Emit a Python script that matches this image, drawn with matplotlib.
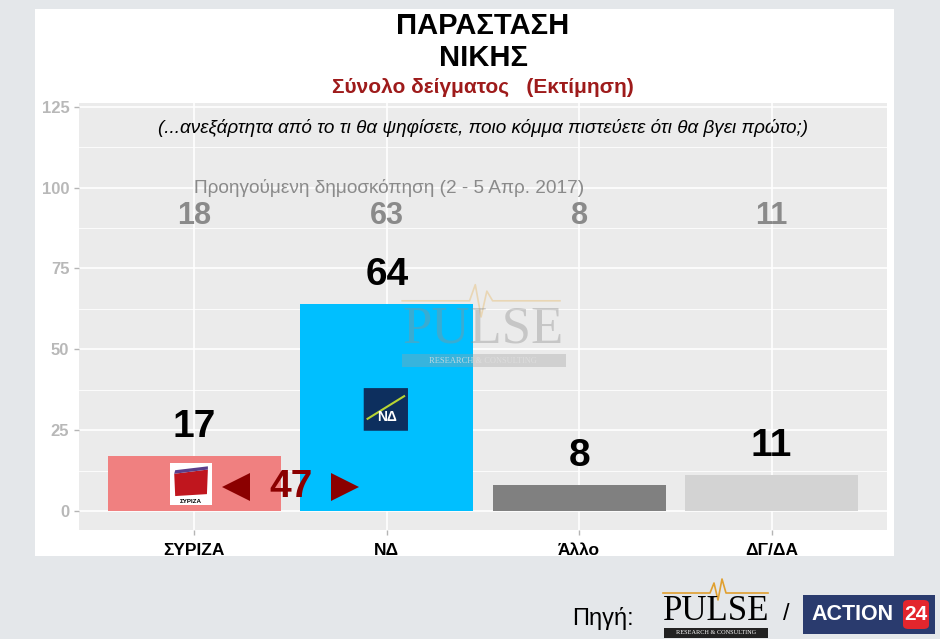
import matplotlib
matplotlib.use("Agg")
import matplotlib.pyplot as plt
from matplotlib.patches import Rectangle, FancyBboxPatch, Polygon
from matplotlib.lines import Line2D

# ---------------- data ----------------
categories = ["ΣΥΡΙΖΑ", "ΝΔ", "Άλλο", "ΔΓ/ΔΑ"]
current_values = [17, 64, 8, 11]
previous_values = [18, 63, 8, 11]
bar_colors = ["#f08080", "#00bfff", "#808080", "#d3d3d3"]
y_ticks = [0, 25, 50, 75, 100, 125]
gap_value = 47

title_text = "ΠΑΡΑΣΤΑΣΗ\nΝΙΚΗΣ"
subtitle_text = "Σύνολο δείγματος   (Εκτίμηση)"
question_text = "(...ανεξάρτητα από το τι θα ψηφίσετε, ποιο κόμμα πιστεύετε ότι θα βγει πρώτο;)"
previous_text = "Προηγούμενη δημοσκόπηση (2 - 5 Απρ. 2017)"

W, H = 940, 639
fig = plt.figure(figsize=(W / 100, H / 100), dpi=100)
fig.patch.set_facecolor("#e4e7ea")

SANS = ["Liberation Sans", "DejaVu Sans"]
NARROW = ["Liberation Sans Narrow", "Liberation Sans", "DejaVu Sans"]

def fx(px):
    return px / W

def fy(py):
    return 1 - py / H

# white card
fig.patches.append(Rectangle((fx(35), fy(556)), fx(894) - fx(35), fy(9) - fy(556),
                             transform=fig.transFigure, facecolor="white",
                             edgecolor="none", zorder=-5))

# titles
fig.text(fx(483), fy(42), title_text, ha="center", va="center", fontsize=21,
         fontweight="bold", family=NARROW, linespacing=1.2, color="black")
fig.text(fx(483), fy(87), subtitle_text, ha="center", va="center", fontsize=15,
         fontweight="bold", family=NARROW, color="#9e1b1b")

# ---------------- axes ----------------
ax = fig.add_axes([fx(79), fy(530), fx(887) - fx(79), fy(103) - fy(530)])
ax.set_zorder(1)
ax.set_facecolor("#ebebeb")
x = list(range(len(categories)))
ax.set_xlim(-0.6, 3.6)
ax.set_ylim(-5.9, 126.2)

# grid
for v in [12.5, 37.5, 62.5, 87.5, 112.5]:
    ax.axhline(v, color="white", lw=0.6, zorder=0.5)
for v in y_ticks:
    ax.axhline(v, color="white", lw=1.2, zorder=0.5)
for xi in x:
    ax.axvline(xi, color="white", lw=1.2, zorder=0.5)

ax.bar(x, current_values, width=0.9, color=bar_colors, zorder=2)

for xi, v in zip(x, current_values):
    ax.text(xi, v + 9, str(v), ha="center", va="center", fontsize=28,
            fontweight="bold", family=SANS, color="black", zorder=5)
for xi, v in zip(x, previous_values):
    ax.text(xi, 91.3, str(v), ha="center", va="center", fontsize=22,
            fontweight="bold", family=SANS, color="#8a8a8a", zorder=5)

ax.text(1.5, 118.5, question_text, ha="center", va="center", fontsize=13.6,
        style="italic", family=SANS, color="black", zorder=5)
ax.text(1.01, 100, previous_text, ha="center", va="center", fontsize=13.7,
        family=SANS, color="#8a8a8a", zorder=5)

# gap annotation
ax.text(0.5, 7.4, str(gap_value), ha="center", va="center", fontsize=28,
        fontweight="bold", family=SANS, color="#8b0000", zorder=6)
ax.plot([0.215], [7.4], marker="<", markersize=20, color="#8b0000",
        markeredgewidth=0, zorder=6)
ax.plot([0.785], [7.4], marker=">", markersize=20, color="#8b0000",
        markeredgewidth=0, zorder=6)

# SYRIZA logo (approximation)
ax.add_patch(Rectangle((-0.125, 1.8), 0.215, 13.0, facecolor="white",
                       edgecolor="none", zorder=4))
ax.add_patch(Polygon([(-0.105, 11.5), (0.07, 12.8), (0.065, 5.2), (-0.1, 4.6)],
                     closed=True, facecolor="#c0161e", edgecolor="none", zorder=4.5))
ax.add_patch(Polygon([(-0.105, 11.5), (0.07, 12.8), (0.07, 13.8), (-0.1, 12.6)],
                     closed=True, facecolor="#5a3e8a", edgecolor="none", zorder=4.5))
ax.text(-0.018, 3.0, "ΣΥΡΙΖΑ", ha="center", va="center", fontsize=4.5,
        fontweight="bold", family=SANS, color="black", zorder=5)

# ND logo (approximation)
ax.add_patch(FancyBboxPatch((0.88, 24.8), 0.23, 13.2,
                            boxstyle="round,pad=0,rounding_size=0.01",
                            facecolor="#0d2f5e", edgecolor="none", zorder=4))
ax.plot([0.9, 1.09], [28.5, 35.5], color="#b8d433", lw=1.5, zorder=4.5)
ax.text(1.0, 29.0, "ΝΔ", ha="center", va="center", fontsize=10,
        fontweight="bold", family=SANS, color="white", zorder=5)

# PULSE watermark
ax.plot([1.08, 1.43, 1.46, 1.49, 1.52, 1.55, 1.9], [65, 65, 70, 60, 68, 65, 65],
        color="#e8c890", lw=1.2, alpha=0.6, zorder=3)
ax.text(1.5, 56, "PULSE", ha="center", va="center", fontsize=38,
        family=["Liberation Serif", "DejaVu Serif"], color="#909090",
        alpha=0.4, zorder=3)
ax.add_patch(Rectangle((1.08, 44.5), 0.85, 4.0, facecolor="#a0a0a0",
                       alpha=0.35, edgecolor="none", zorder=3))
ax.text(1.5, 46.5, "RESEARCH & CONSULTING", ha="center", va="center",
        fontsize=6, family=["Liberation Serif", "DejaVu Serif"],
        color="#e0e0e0", alpha=0.8, zorder=3)

# ticks
ax.set_xticks(x)
ax.set_xticklabels(categories, fontsize=12.5, fontweight="bold", family=SANS)
ax.set_yticks(y_ticks)
ax.set_yticklabels([str(v) for v in y_ticks], fontsize=12, fontweight="bold",
                   family=SANS, color="#b8b8b8")
ax.tick_params(axis="both", length=3.5, color="#b5b5b5", width=1)
ax.tick_params(axis="x", pad=6)
for s in ax.spines.values():
    s.set_visible(False)

# ---------------- footer ----------------
fig.text(fx(572), fy(618), "Πηγή:", ha="left", va="center", fontsize=17,
         family=SANS, color="black")
fig.lines.append(Line2D([fx(663), fx(710), fx(714), fx(718), fx(722), fx(726), fx(768)],
                        [fy(593), fy(593), fy(583), fy(600), fy(579), fy(593), fy(593)],
                        transform=fig.transFigure, color="#e0a030", lw=1.2))
fig.text(fx(716), fy(612), "PULSE", ha="center", va="center", fontsize=25,
         family=["Liberation Serif", "DejaVu Serif"], color="black")
fig.patches.append(Rectangle((fx(664), fy(638)), fx(768) - fx(664), fy(628) - fy(638),
                             transform=fig.transFigure, facecolor="#222222",
                             edgecolor="none"))
fig.text(fx(716), fy(633), "RESEARCH & CONSULTING", ha="center", va="center",
         fontsize=4.5, family=["Liberation Serif", "DejaVu Serif"], color="white")
fig.text(fx(786), fy(614), "/", ha="center", va="center", fontsize=17,
         family=SANS, color="black")
fig.patches.append(Rectangle((fx(803), fy(634)), fx(935) - fx(803), fy(595) - fy(634),
                             transform=fig.transFigure, facecolor="#2a3b6e",
                             edgecolor="none"))
fig.text(fx(853), fy(614), "ACTION", ha="center", va="center", fontsize=15.5,
         fontweight="bold", family=SANS, color="white")
fig.patches.append(FancyBboxPatch((fx(903), fy(629)), fx(929) - fx(903), fy(600) - fy(629),
                                  boxstyle="round,pad=0,rounding_size=0.006",
                                  transform=fig.transFigure, facecolor="#e3262d",
                                  edgecolor="none"))
fig.text(fx(916), fy(614), "24", ha="center", va="center", fontsize=15,
         fontweight="bold", family=SANS, color="white")

fig.savefig("out.png", dpi=100, facecolor=fig.get_facecolor())
